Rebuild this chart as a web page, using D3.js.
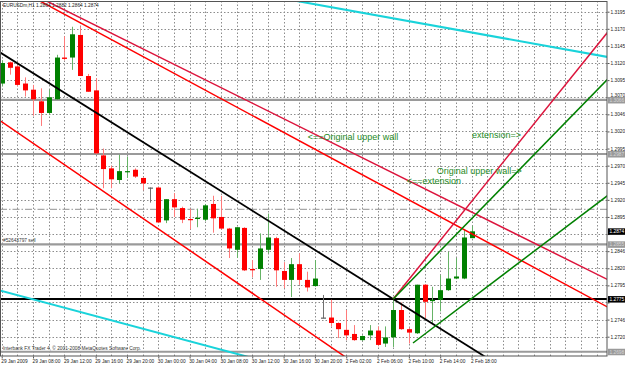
<!DOCTYPE html>
<html>
<head>
<meta charset="utf-8">
<style>
body {margin:0; background:#fff;}
svg {display:block;}
</style>
</head>
<body>
<div id="chart"></div>
<script src="https://cdn.jsdelivr.net/npm/d3@7/dist/d3.min.js"></script>
<script>
// EURUSDm H1, one candle per hour from 29 Jan 04:00 to 2 Feb 18:00
var open  = [1.3090,1.3121,1.3115,1.3090,1.3081,1.3064,1.3047,1.3067,1.3128,1.3128,
             1.3161,1.3101,1.3080,1.2985,1.2966,1.2949,1.2961,1.2964,1.2952,1.2938,
             1.2938,1.2890,1.2921,1.2908,1.2892,1.2892,1.2891,1.2914,1.2895,1.2878,
             1.2847,1.2879,1.2819,1.2819,1.2847,1.2864,1.2816,1.2803,1.2826,1.2803,
             1.2794,1.2748,1.2748,1.2740,1.2730,1.2724,1.2715,1.2722,1.2729,1.2710,
             1.2719,1.2759,1.2731,1.2725,1.2796,1.2772,1.2774,1.2788,1.2805,1.2805,
             1.2864];
var high  = [1.3124,1.3122,1.3117,1.3099,1.3088,1.3083,1.3081,1.3132,1.3159,1.3173,
             1.3173,1.3104,1.3098,1.2995,1.2970,1.2986,1.2983,1.2966,1.2953,1.2938,
             1.2939,1.2921,1.2930,1.2910,1.2907,1.2907,1.2914,1.2926,1.2926,1.2879,
             1.2880,1.2880,1.2832,1.2871,1.2900,1.2866,1.2829,1.2835,1.2842,1.2815,
             1.2832,1.2781,1.2774,1.2741,1.2759,1.2737,1.2722,1.2737,1.2735,1.2735,
             1.2774,1.2770,1.2733,1.2796,1.2797,1.2793,1.2810,1.2844,1.2835,1.2876,
             1.2882];
var low   = [1.3086,1.3103,1.3086,1.3071,1.3043,1.3028,1.3044,1.3066,1.3124,1.3110,
             1.3101,1.3078,1.2987,1.2937,1.2937,1.2944,1.2952,1.2952,1.2934,1.2916,
             1.2886,1.2886,1.2895,1.2886,1.2877,1.2880,1.2889,1.2872,1.2877,1.2835,
             1.2835,1.2816,1.2807,1.2803,1.2842,1.2793,1.2791,1.2778,1.2796,1.2786,
             1.2793,1.2747,1.2735,1.2718,1.2715,1.2714,1.2714,1.2715,1.2706,1.2705,
             1.2705,1.2730,1.2710,1.2724,1.2747,1.2740,1.2757,1.2787,1.2804,1.2804,
             1.2864];
var close = [1.3120,1.3113,1.3088,1.3080,1.3067,1.3047,1.3070,1.3128,1.3126,1.3162,
             1.3101,1.3078,1.2988,1.2965,1.2950,1.2962,1.2962,1.2954,1.2944,1.2938,
             1.2887,1.2921,1.2909,1.2891,1.2891,1.2894,1.2912,1.2893,1.2878,1.2849,
             1.2880,1.2817,1.2817,1.2849,1.2865,1.2817,1.2803,1.2826,1.2803,1.2792,
             1.2805,1.2748,1.2740,1.2731,1.2722,1.2715,1.2721,1.2729,1.2708,1.2719,
             1.2759,1.2731,1.2726,1.2796,1.2771,1.2774,1.2788,1.2805,1.2808,1.2865,
             1.2874];

// time labels, one every 4 bars
var timeLabels = ["29 Jan 2009","29 Jan 08:00","29 Jan 12:00","29 Jan 16:00","29 Jan 20:00",
                  "30 Jan 00:00","30 Jan 04:00","30 Jan 08:00","30 Jan 12:00","30 Jan 16:00",
                  "30 Jan 20:00","2 Feb 02:00","2 Feb 06:00","2 Feb 10:00","2 Feb 14:00","2 Feb 18:00"];

// price scale labels (top to bottom), "" where a black tag covers it
var priceLabels = ["1.3195","1.3170","1.3145","1.3120","1.3095","1.3070","1.3046","1.3020",
                   "1.2995","1.2970","1.2945","1.2920","1.2895","","1.2846","1.2820",
                   "1.2795","","1.2746","1.2720"];

// horizontal lines
var grayLevels  = [1.3066, 1.2987, 1.2855, 1.2698];
var blackLevel  = 1.2775;
var dashLevel   = 1.2906;
var bidPrice    = 1.2874;

// trend lines: two anchors [bar, price], extended left/right
var lineNames  = ["black","crimsonDown","redUpper","redLower","cyanTop","cyanBottom","crimsonUp","greenUpper","greenLower"];
var lineFrom   = [[0,1.3134],[26.6,1.3092],[26.6,1.30766],[0,1.30342],[37.68,1.32107],[0,1.27868],[50,1.27751],[50,1.27751],[52.53,1.27108]];
var lineTo     = [[50,1.2775],[77.3,1.2804],[77.3,1.27638],[43.84,1.26908],[77.3,1.3129],[26.6,1.27054],[77.3,1.31639],[77.3,1.30952],[77.3,1.29256]];
var lineExtL   = [true,true,true,true,false,true,false,false,false];
var lineColor  = ["#000000","#dc143c","#ff0000","#ff0000","#19d3da","#19d3da","#dc143c","#008000","#008000"];
var lineWidth  = [1.8,1.5,1.5,1.5,2,2,1.5,1.5,1.5];

// text objects: [text, bar, price]
var notes = [["<==Original upper wall",39.1,1.30068],
             ["extension=>",60.06,1.30097],
             ["Original upper wall=>",55.55,1.29585],
             ["<==extension",51.72,1.29439]];

var W = 625, H = 365, plotR = 607, plotB = 356;
var font = "'Liberation Sans', Arial, sans-serif";

var x = d3.scaleLinear().domain([0, 60]).range([1.7, 471.5]);
var y = d3.scaleLinear().domain([1.2720, 1.3195]).range([336.7, 11.7]);

var svg = d3.select("#chart").append("svg")
    .attr("width", W).attr("height", H)
    .style("font-family", font);

svg.append("rect").attr("width", W).attr("height", H).attr("fill", "#fff");

svg.append("defs").append("clipPath").attr("id", "plotclip")
  .append("rect").attr("x", 0).attr("y", 1).attr("width", plotR).attr("height", plotB - 1);

var plot = svg.append("g").attr("clip-path", "url(#plotclip)");

// grid
var priceTicks = priceLabels.map(function(d, i){ return 1.3195 - 0.0025 * i; });
var gridBars = d3.range(0, 80, 2).filter(function(i){ return x(i) < plotR; });

plot.selectAll(".vgrid").data(gridBars).enter().append("line")
    .attr("x1", function(d){ return Math.round(x(d)) + 0.5; })
    .attr("x2", function(d){ return Math.round(x(d)) + 0.5; })
    .attr("y1", 1).attr("y2", plotB)
    .attr("stroke", "#8c8c8c").attr("stroke-width", 1).attr("stroke-dasharray", "1.5,2");

plot.selectAll(".hgrid").data(priceTicks).enter().append("line")
    .attr("x1", 0).attr("x2", plotR)
    .attr("y1", function(d){ return Math.round(y(d)) + 0.5; })
    .attr("y2", function(d){ return Math.round(y(d)) + 0.5; })
    .attr("stroke", "#8c8c8c").attr("stroke-width", 1).attr("stroke-dasharray", "1.5,2");

// horizontal lines
plot.selectAll(".gray").data(grayLevels).enter().append("line")
    .attr("x1", 0).attr("x2", plotR)
    .attr("y1", function(d){ return y(d); }).attr("y2", function(d){ return y(d); })
    .attr("stroke", "#9a9a9a").attr("stroke-width", 2.2);

plot.append("line")
    .attr("x1", 0).attr("x2", plotR).attr("y1", y(dashLevel)).attr("y2", y(dashLevel))
    .attr("stroke", "#a8a8a8").attr("stroke-width", 1.2).attr("stroke-dasharray", "7,2,1.5,2");

plot.append("line")
    .attr("x1", 0).attr("x2", plotR).attr("y1", y(blackLevel)).attr("y2", y(blackLevel))
    .attr("stroke", "#000").attr("stroke-width", 2);

// candles
var bars = d3.range(open.length);
var col = function(i){
  if (close[i] > open[i]) return "#008000";
  if (close[i] < open[i]) return "#ff0000";
  return "#606060";
};
var wickCol = function(i){
  if (close[i] > open[i]) return "#66b366";
  if (close[i] < open[i]) return "#ff7a7a";
  return "#707070";
};

plot.selectAll(".wick").data(bars).enter().append("line")
    .attr("x1", function(i){ return Math.round(x(i)) + 0.5; })
    .attr("x2", function(i){ return Math.round(x(i)) + 0.5; })
    .attr("y1", function(i){ return y(high[i]); })
    .attr("y2", function(i){ return y(low[i]); })
    .attr("stroke", wickCol).attr("stroke-width", 1);

plot.selectAll(".body").data(bars).enter().append("rect")
    .attr("x", function(i){ return Math.round(x(i)) - 2; })
    .attr("width", 5)
    .attr("y", function(i){ return y(Math.max(open[i], close[i])); })
    .attr("height", function(i){ return Math.max(1.2, Math.abs(y(open[i]) - y(close[i]))); })
    .attr("fill", col);

// trend lines
var lineGen = d3.line().x(function(d){ return x(d[0]); }).y(function(d){ return y(d[1]); });
lineNames.forEach(function(name, k){
  var a = lineFrom[k], b = lineTo[k];
  var slope = (b[1] - a[1]) / (b[0] - a[0]);
  var x0 = lineExtL[k] ? -10 : a[0];
  var x1 = 90;
  var pts = [[x0, a[1] + slope * (x0 - a[0])], [x1, a[1] + slope * (x1 - a[0])]];
  plot.append("path")
      .attr("d", lineGen(pts))
      .attr("fill", "none")
      .attr("stroke", lineColor[k])
      .attr("stroke-width", lineWidth[k]);
});

// text objects
plot.selectAll(".note").data(notes).enter().append("text")
    .attr("x", function(d){ return x(d[1]); })
    .attr("y", function(d){ return y(d[2]); })
    .attr("fill", "#1e8a1e")
    .style("font-size", "9px")
    .text(function(d){ return d[0]; });

// order label
plot.append("text")
    .attr("x", 3).attr("y", y(grayLevels[2]) - 2)
    .attr("fill", "#333").style("font-size", "4.8px")
    .text("#52643797 sell");

// title & copyright
svg.append("text").attr("x", 3).attr("y", 7)
    .attr("fill", "#222").style("font-size", "4.8px")
    .text("EURUSDm,H1  1.2864 1.2882 1.2864 1.2874");

svg.append("text").attr("x", 3).attr("y", 350)
    .attr("fill", "#333").style("font-size", "4.8px")
    .text("Interbank FX Trader 4, \u00a9 2001-2008 MetaQuotes Software Corp.");

// frame
svg.append("rect").attr("x", 0.5).attr("y", 1.5).attr("width", plotR - 0.5).attr("height", plotB - 1.5)
    .attr("fill", "none").attr("stroke", "#555").attr("stroke-width", 1);

// price axis
var yAxis = d3.axisRight(y)
    .tickValues(priceTicks)
    .tickFormat(function(d, i){ return priceLabels[i]; })
    .tickSize(2).tickPadding(1);
var ga = svg.append("g").attr("transform", "translate(" + (plotR + 0.5) + ",0)").call(yAxis);
ga.select(".domain").remove();
ga.selectAll("text").style("font-size", "4.8px").attr("fill", "#222").attr("font-family", font);
ga.selectAll(".tick line").attr("stroke", "#555");
// nudge a tick label away from the gray tag just below it
ga.selectAll("text").filter(function(d){ return Math.abs(y(d) - y(grayLevels[0])) < 5; })
    .attr("dy", "-0.1em");

// time axis
var xAxis = d3.axisBottom(x)
    .tickValues(d3.range(0, 61, 4))
    .tickFormat(function(d, i){ return timeLabels[i]; })
    .tickSize(2).tickPadding(1);
var gx = svg.append("g").attr("transform", "translate(0," + (plotB + 0.5) + ")").call(xAxis);
gx.select(".domain").remove();
gx.selectAll("text").style("font-size", "4.8px").attr("fill", "#222")
    .attr("text-anchor", "start").attr("dx", "-0.2em").attr("font-family", font);
gx.selectAll(".tick line").attr("stroke", "#555");

// highlighted price labels
function priceTag(p, bg, fg){
  var yy = Math.min(y(p), plotB - 3);
  svg.append("rect").attr("x", plotR + 1).attr("y", yy - 3).attr("width", 17).attr("height", 6.5).attr("fill", bg);
  svg.append("text").attr("x", plotR + 2.5).attr("y", yy + 2)
      .attr("fill", fg).style("font-size", "4.8px").text(p.toFixed(4));
}
grayLevels.forEach(function(p){ priceTag(p, "#9a9a9a", "#d8d8d8"); });
priceTag(bidPrice, "#000", "#fff");
priceTag(blackLevel, "#000", "#fff");
</script>
</body>
</html>
